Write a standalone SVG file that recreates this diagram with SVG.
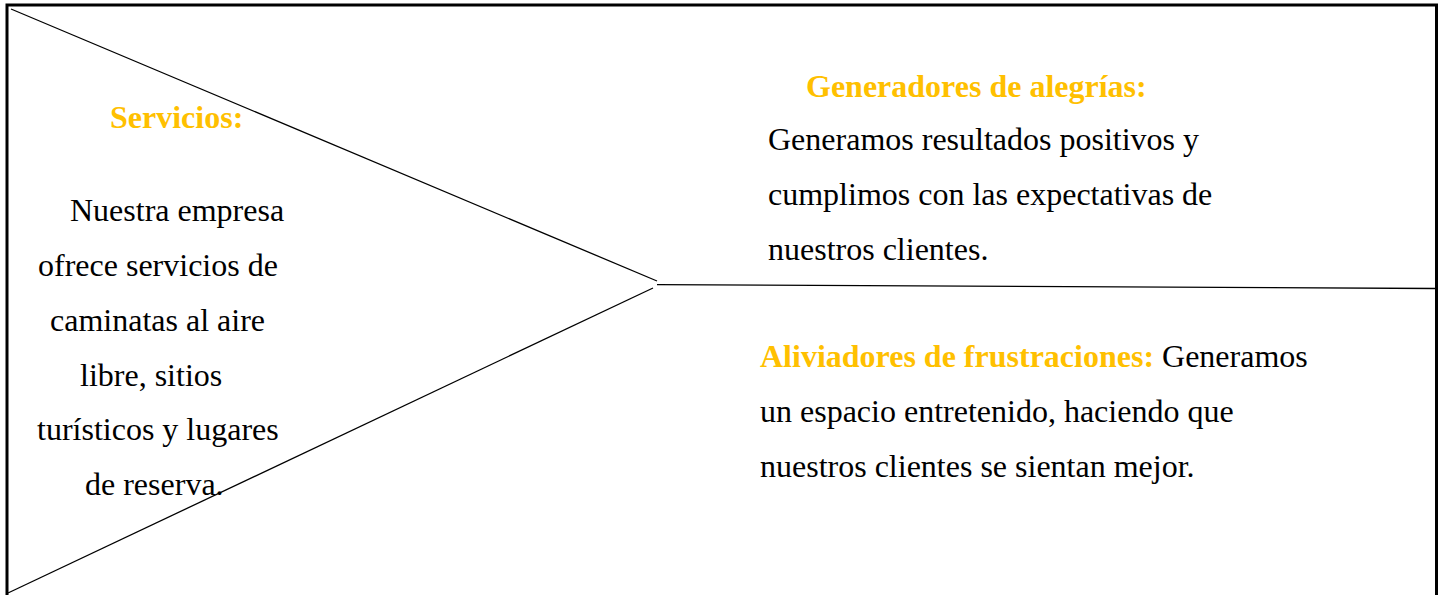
<svg xmlns="http://www.w3.org/2000/svg" width="1442" height="595" viewBox="0 0 1442 595">
<style>
.t{font-family:"Liberation Serif","Times New Roman",serif;font-size:32px;fill:#000}
.h{font-family:"Liberation Serif","Times New Roman",serif;font-size:32px;font-weight:bold;fill:#FFC000}
.ln{stroke:#000;stroke-width:1.3;fill:none}
</style>
<rect x="0" y="0" width="1442" height="595" fill="#fff"/>
<g id="frame"><rect x="7" y="5" width="1429.5" height="600" fill="none" stroke="#000" stroke-width="3"/></g>
<g id="connectors">
<line class="ln" x1="11" y1="9" x2="657" y2="281"/>
<line class="ln" x1="653" y1="288" x2="8" y2="593"/>
<line class="ln" x1="657" y1="284.7" x2="1435" y2="288.5"/>
</g>
<g id="servicios">
<text class="h" x="110" y="128">Servicios:</text>
<text class="t" x="70" y="221">Nuestra empresa</text>
<text class="t" x="38" y="276">ofrece servicios de</text>
<text class="t" x="50" y="331">caminatas al aire</text>
<text class="t" x="80" y="386">libre, sitios</text>
<text class="t" x="37" y="440">turísticos y lugares</text>
<text class="t" x="85" y="495">de reserva.</text>
</g>
<g id="generadores">
<text class="h" x="806" y="97">Generadores de alegrías:</text>
<text class="t" x="768" y="150">Generamos resultados positivos y</text>
<text class="t" x="768" y="205">cumplimos con las expectativas de</text>
<text class="t" x="768" y="260">nuestros clientes.</text>
</g>
<g id="aliviadores">
<text x="760" y="367"><tspan class="h">Aliviadores de frustraciones:</tspan><tspan class="t"> Generamos</tspan></text>
<text class="t" x="760" y="422">un espacio entretenido, haciendo que</text>
<text class="t" x="760" y="477">nuestros clientes se sientan mejor.</text>
</g>
</svg>
